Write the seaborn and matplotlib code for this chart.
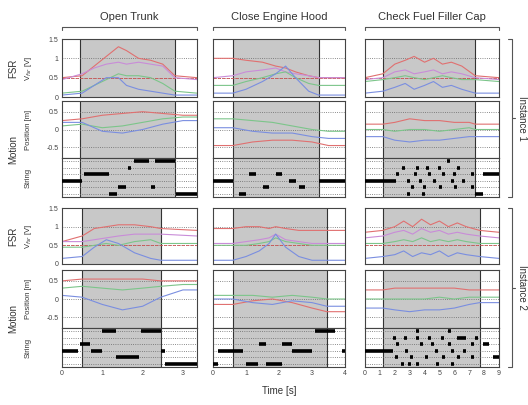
import matplotlib
matplotlib.use('Agg')

import matplotlib.pyplot as plt
import seaborn as sns
import numpy as np

sns.set_style("white")
plt.rcParams['font.family'] = ['Liberation Sans', 'DejaVu Sans']

W, H = 528, 405

tasks = ["Open Trunk", "Close Engine Hood", "Check Fuel Filler Cap"]
x_max = [3.35, 4.0, 9.0]
x_ticks = [[0, 1, 2, 3], [0, 1, 2, 3, 4], [0, 1, 2, 3, 4, 5, 6, 7, 8, 9]]

# shaded (task) interval per instance and task
gray_1 = [(0.45, 2.8), (0.6, 3.2), (1.2, 7.4)]
gray_2 = [(0.5, 2.45), (0.6, 3.45), (1.2, 7.7)]

# ---- FSR, instance 1
fsr_trunk_1 = {"t": [0, 0.5, 0.8, 1.1, 1.4, 1.6, 1.9, 2.2, 2.5, 2.8, 3.35],
               "red": [0.5, 0.55, 0.8, 1.05, 1.3, 1.2, 1.0, 0.95, 0.85, 0.55, 0.5],
               "pink": [0.45, 0.6, 0.75, 0.85, 0.9, 0.85, 0.9, 0.85, 0.8, 0.5, 0.45],
               "green": [0.1, 0.15, 0.3, 0.45, 0.6, 0.55, 0.55, 0.5, 0.35, 0.15, 0.1],
               "blue": [0.05, 0.1, 0.3, 0.5, 0.5, 0.3, 0.2, 0.15, 0.1, 0.05, 0.05]}
fsr_hood_1 = {"t": [0, 0.6, 1.0, 1.5, 1.9, 2.2, 2.5, 2.9, 3.2, 4.0],
              "red": [1.0, 1.0, 0.95, 0.9, 0.8, 0.75, 0.65, 0.55, 0.5, 0.5],
              "pink": [0.5, 0.55, 0.65, 0.7, 0.75, 0.65, 0.6, 0.55, 0.5, 0.5],
              "green": [0.3, 0.3, 0.4, 0.5, 0.6, 0.65, 0.5, 0.35, 0.3, 0.3],
              "blue": [0.1, 0.1, 0.2, 0.4, 0.6, 0.8, 0.5, 0.15, 0.05, 0.05]}
fsr_fuel_1 = {"t": [0, 1.2, 2, 2.7, 3.3, 4, 4.6, 5.2, 5.8, 6.5, 7.4, 9],
              "red": [0.5, 0.6, 0.85, 0.95, 1.05, 0.9, 1.0, 0.85, 0.9, 0.8, 0.55, 0.5],
              "pink": [0.45, 0.5, 0.65, 0.7, 0.6, 0.65, 0.7, 0.6, 0.65, 0.6, 0.5, 0.45],
              "green": [0.4, 0.45, 0.5, 0.55, 0.5, 0.45, 0.5, 0.55, 0.5, 0.45, 0.45, 0.4],
              "blue": [0.1, 0.15, 0.25, 0.35, 0.2, 0.3, 0.4, 0.25, 0.3, 0.2, 0.1, 0.1]}

# ---- FSR, instance 2
fsr_trunk_2 = {"t": [0, 0.5, 0.8, 1.1, 1.4, 1.8, 2.2, 2.45, 3.35],
               "red": [0.6, 0.75, 0.95, 1.0, 1.05, 1.05, 1.0, 0.95, 0.9],
               "pink": [0.6, 0.6, 0.65, 0.7, 0.75, 0.8, 0.8, 0.8, 0.75],
               "green": [0.45, 0.45, 0.5, 0.55, 0.5, 0.6, 0.65, 0.55, 0.55],
               "blue": [0.15, 0.2, 0.45, 0.65, 0.55, 0.3, 0.15, 0.1, 0.1]}
fsr_hood_2 = {"t": [0, 0.6, 1.0, 1.4, 1.7, 1.9, 2.2, 2.6, 3.0, 3.45, 4.0],
              "red": [0.95, 0.95, 1.0, 1.0, 0.95, 1.0, 0.95, 0.9, 0.9, 0.9, 0.9],
              "pink": [0.55, 0.55, 0.6, 0.65, 0.7, 0.8, 0.65, 0.6, 0.55, 0.55, 0.55],
              "green": [0.5, 0.5, 0.5, 0.55, 0.6, 0.7, 0.6, 0.55, 0.5, 0.5, 0.5],
              "blue": [0.1, 0.1, 0.2, 0.35, 0.55, 0.8, 0.45, 0.2, 0.1, 0.1, 0.1]}
fsr_fuel_2 = {"t": [0, 1.2, 2, 2.6, 3.2, 3.8, 4.4, 5, 5.6, 6.2, 6.8, 7.7, 9],
              "red": [0.85, 0.9, 1.0, 1.15, 1.0, 1.2, 1.05, 1.15, 1.0, 1.1, 1.0, 0.9, 0.85],
              "pink": [0.7, 0.75, 0.85, 0.9, 0.8, 0.95, 0.85, 0.9, 0.8, 0.85, 0.8, 0.75, 0.7],
              "green": [0.55, 0.55, 0.6, 0.65, 0.6, 0.7, 0.6, 0.65, 0.6, 0.65, 0.6, 0.55, 0.55],
              "blue": [0.15, 0.2, 0.25, 0.35, 0.2, 0.3, 0.25, 0.35, 0.2, 0.3, 0.25, 0.2, 0.15]}

# ---- Position, instance 1
pos_trunk_1 = {"t": [0, 0.5, 1.0, 1.5, 2.0, 2.5, 3.0, 3.35],
               "red": [0.25, 0.3, 0.4, 0.45, 0.5, 0.45, 0.4, 0.4],
               "green": [0.1, 0.15, 0.05, 0.1, 0.2, 0.3, 0.35, 0.35],
               "blue": [0.2, 0.2, -0.05, -0.1, 0.0, 0.15, 0.25, 0.25]}
pos_hood_1 = {"t": [0, 0.6, 1.2, 1.8, 2.4, 3.0, 3.5, 4.0],
              "red": [-0.45, -0.45, -0.35, -0.3, -0.3, -0.35, -0.45, -0.45],
              "green": [0.3, 0.3, 0.25, 0.2, 0.1, 0.0, -0.05, -0.05],
              "blue": [0.05, 0.05, -0.05, -0.1, -0.1, -0.2, -0.25, -0.25]}
pos_fuel_1 = {"t": [0, 1.2, 2, 3, 4, 5, 6, 7, 7.4, 9],
              "red": [0.15, 0.15, 0.2, 0.3, 0.25, 0.25, 0.2, 0.2, 0.15, 0.15],
              "green": [0.0, 0.0, -0.05, 0.0, 0.0, -0.05, 0.0, 0.05, 0.0, 0.0],
              "blue": [-0.2, -0.2, -0.3, -0.35, -0.3, -0.3, -0.25, -0.2, -0.2, -0.2]}

# ---- Position, instance 2
pos_trunk_2 = {"t": [0, 0.5, 1.0, 1.5, 2.0, 2.45, 3.0, 3.35],
               "red": [0.5, 0.55, 0.55, 0.55, 0.55, 0.5, 0.5, 0.5],
               "green": [0.3, 0.35, 0.3, 0.25, 0.3, 0.35, 0.4, 0.4],
               "blue": [0.1, 0.05, -0.15, -0.3, -0.2, 0.05, 0.25, 0.25]}
pos_hood_2 = {"t": [0, 0.6, 1.2, 1.8, 2.4, 3.0, 3.45, 4.0],
              "red": [-0.15, -0.15, -0.05, 0.0, -0.1, -0.25, -0.35, -0.35],
              "green": [0.1, 0.1, 0.1, 0.05, 0.1, 0.05, 0.0, 0.0],
              "blue": [0.0, 0.0, -0.1, -0.15, -0.05, -0.1, -0.2, -0.2]}
pos_fuel_2 = {"t": [0, 1.2, 2, 3, 4, 5, 6, 7, 7.7, 9],
              "red": [0.25, 0.25, 0.3, 0.3, 0.3, 0.3, 0.3, 0.25, 0.25, 0.25],
              "green": [0.0, 0.0, 0.0, 0.0, 0.0, 0.05, 0.0, 0.05, 0.05, 0.05],
              "blue": [-0.25, -0.25, -0.3, -0.35, -0.3, -0.3, -0.25, -0.15, -0.1, -0.1]}

# ---- String states: (start, end, level)
str_trunk_1 = [(0.0, 0.5, 2), (0.55, 1.17, 3), (1.17, 1.37, 0), (1.4, 1.6, 1), (1.65, 1.72, 4),
               (1.78, 2.15, 5), (2.2, 2.3, 1), (2.3, 2.8, 5), (2.83, 3.35, 0)]
str_hood_1 = [(0.0, 0.6, 2), (0.8, 1.0, 0), (1.1, 1.3, 3), (1.5, 1.7, 1), (1.9, 2.1, 3),
              (2.3, 2.5, 2), (2.6, 2.8, 1), (3.2, 4.0, 2)]
str_fuel_1 = [(0.0, 2.1, 2), (2.5, 2.7, 4), (3.45, 3.65, 4), (4.1, 4.3, 4), (4.9, 5.1, 4), (6.15, 6.35, 4),
              (2.1, 2.3, 3), (3.3, 3.5, 3), (4.25, 4.45, 3), (5.15, 5.35, 3), (5.9, 6.1, 3), (7.15, 7.35, 3),
              (2.8, 3.0, 2), (3.6, 3.8, 2), (4.6, 4.8, 2), (5.75, 5.95, 2), (6.5, 6.7, 2),
              (3.1, 3.3, 1), (3.9, 4.1, 1), (5.0, 5.2, 1), (5.95, 6.15, 1), (7.1, 7.3, 1),
              (2.8, 3.0, 0), (3.8, 4.0, 0), (5.5, 5.7, 5), (7.4, 7.9, 0), (7.9, 9.0, 3)]
str_trunk_2 = [(0.0, 0.4, 2), (0.45, 0.7, 3), (0.73, 1.0, 2), (1.0, 1.33, 5), (1.33, 1.9, 1),
               (1.95, 2.45, 5), (2.45, 2.55, 2), (2.55, 3.35, 0)]
str_hood_2 = [(0.0, 0.15, 0), (0.15, 0.9, 2), (1.0, 1.35, 0), (1.4, 1.6, 3), (1.6, 2.1, 0),
              (2.1, 2.4, 3), (2.4, 3.0, 2), (3.1, 3.7, 5), (3.9, 4.0, 2)]
str_fuel_2 = [(0.0, 1.9, 2), (1.9, 2.1, 4), (2.6, 2.8, 4), (3.4, 3.6, 4), (4.25, 4.45, 4), (5.1, 5.3, 4),
              (6.2, 6.8, 4), (7.4, 7.6, 4), (2.1, 2.3, 3), (3.7, 3.9, 3), (4.45, 4.65, 3), (5.6, 5.8, 3),
              (7.1, 7.3, 3), (2.7, 2.9, 2), (4.7, 4.9, 2), (5.8, 6.0, 2), (6.6, 6.8, 2),
              (2.0, 2.2, 1), (3.05, 3.25, 1), (4.05, 4.25, 1), (5.15, 5.35, 1), (6.15, 6.35, 1), (7.1, 7.3, 1),
              (2.4, 2.6, 0), (2.9, 3.1, 0), (3.45, 3.65, 0), (4.8, 5.0, 0), (5.8, 6.0, 0),
              (3.45, 3.65, 5), (5.6, 5.8, 5), (7.9, 8.3, 3), (8.6, 9.0, 1)]

fsr_data = [[fsr_trunk_1, fsr_hood_1, fsr_fuel_1], [fsr_trunk_2, fsr_hood_2, fsr_fuel_2]]
pos_data = [[pos_trunk_1, pos_hood_1, pos_fuel_1], [pos_trunk_2, pos_hood_2, pos_fuel_2]]
str_data = [[str_trunk_1, str_hood_1, str_fuel_1], [str_trunk_2, str_hood_2, str_fuel_2]]
grays = [gray_1, gray_2]

colors = {"red": "#e07070", "pink": "#c98cd8", "green": "#7cc58a", "blue": "#7a8ee0"}

col_x = [(62, 197), (213, 345), (365, 499)]
# (fsr top, fsr bottom, pos top, pos/string split, string bottom)
row_y = [(39, 97, 101, 158, 197), (208, 264, 270, 328, 367)]


def box(x0, y0, x1, y1):
    return [x0 / W, 1 - y1 / H, (x1 - x0) / W, (y1 - y0) / H]


def style(ax, xm, show_y):
    ax.set_xlim(0, xm)
    for s in ax.spines.values():
        s.set_color("#444444")
        s.set_linewidth(0.8)
    ax.tick_params(length=1.5, width=0.5, labelsize=5, pad=1, colors="#444444")
    if not show_y:
        ax.set_yticklabels([])


def shade(ax, g):
    ax.axvspan(g[0], g[1], color="#c8c8c8", zorder=0, lw=0)
    ax.axvline(g[0], color="#333333", lw=0.8, zorder=1)
    ax.axvline(g[1], color="#333333", lw=0.8, zorder=1)


fig = plt.figure(figsize=(W / 100, H / 100), dpi=100)

for i in range(2):
    ft, fb, pt, ps, sb = row_y[i]
    for j in range(3):
        x0, x1 = col_x[j]
        g = grays[i][j]

        # FSR
        ax = fig.add_axes(box(x0, ft, x1, fb))
        shade(ax, g)
        for yv in [0.5, 1.0]:
            ax.axhline(yv, color="#666666", ls=":", lw=0.6, zorder=1)
        ax.axhline(0.5, color="#d05050", ls="--", lw=0.6, zorder=1)
        d = fsr_data[i][j]
        for k in ["red", "pink", "green", "blue"]:
            sns.lineplot(x=d["t"], y=d[k], ax=ax, color=colors[k], lw=0.8, zorder=2)
        ax.set_ylim(0, 1.5)
        ax.set_yticks([0, 0.5, 1, 1.5])
        ax.set_yticklabels(["0", "0.5", "1", "1.5"])
        ax.set_xticks(x_ticks[j])
        ax.set_xticklabels([])
        style(ax, x_max[j], j == 0)

        # Position
        ax = fig.add_axes(box(x0, pt, x1, ps))
        shade(ax, g)
        for yv in [-0.5, 0, 0.5]:
            ax.axhline(yv, color="#666666", ls=":", lw=0.6, zorder=1)
        d = pos_data[i][j]
        for k in ["red", "green", "blue"]:
            sns.lineplot(x=d["t"], y=d[k], ax=ax, color=colors[k], lw=0.8, zorder=2)
        ax.set_ylim(-0.8, 0.8)
        ax.set_yticks([-0.5, 0, 0.5])
        ax.set_yticklabels(["-0.5", "0", "0.5"])
        ax.set_xticks(x_ticks[j])
        ax.set_xticklabels([])
        style(ax, x_max[j], j == 0)

        # String
        ax = fig.add_axes(box(x0, ps, x1, sb))
        shade(ax, g)
        for yv in range(6):
            ax.axhline(yv, color="#666666", ls=":", lw=0.6, zorder=1)
        segs = str_data[i][j]
        ax.hlines([s[2] for s in segs], [s[0] for s in segs], [s[1] for s in segs],
                  color="black", lw=2.6, zorder=3)
        ax.set_ylim(-0.5, 5.5)
        ax.set_yticks(range(6))
        ax.set_yticklabels([])
        ax.set_xticks(x_ticks[j])
        if i == 1:
            ax.set_xticklabels([str(v) for v in x_ticks[j]])
        else:
            ax.set_xticklabels([])
        style(ax, x_max[j], False)

# overlay for titles, brackets and row labels, in pixel coordinates
ov = fig.add_axes([0, 0, 1, 1])
ov.set_xlim(0, W)
ov.set_ylim(H, 0)
ov.axis("off")
ov.patch.set_alpha(0)

for j in range(3):
    x0, x1 = col_x[j]
    ov.text((x0 + x1) / 2, 17, tasks[j], ha="center", va="center", fontsize=8, color="#333333")
    ov.plot([x0, x0, x1, x1], [30, 27, 27, 30], color="#555555", lw=0.8)

for i, name in enumerate(["Instance 1", "Instance 2"]):
    ft, fb, pt, ps, sb = row_y[i]
    mid = (ft + sb) / 2
    ov.plot([508, 512, 512, 508], [ft, ft, sb, sb], color="#555555", lw=0.8)
    ov.plot([512, 515], [mid, mid], color="#555555", lw=0.8)
    ov.text(522, mid, name, rotation=270, ha="center", va="center", fontsize=7, color="#333333")
    ov.text(13, (ft + fb) / 2, "FSR", rotation=90, ha="center", va="center", fontsize=7, color="#333333")
    ov.text(28, (ft + fb) / 2, "V$_{fsr}$ [V]", rotation=90, ha="center", va="center", fontsize=5.5, color="#333333")
    ov.text(13, (pt + sb) / 2, "Motion", rotation=90, ha="center", va="center", fontsize=7, color="#333333")
    ov.text(28, (pt + ps) / 2, "Position [m]", rotation=90, ha="center", va="center", fontsize=5.5, color="#333333")
    ov.text(28, (ps + sb) / 2, "String", rotation=90, ha="center", va="center", fontsize=5.5, color="#333333")

ov.text(279, 391, "Time [s]", ha="center", va="center", fontsize=7, color="#333333")

fig.savefig("out.png", dpi=100)
